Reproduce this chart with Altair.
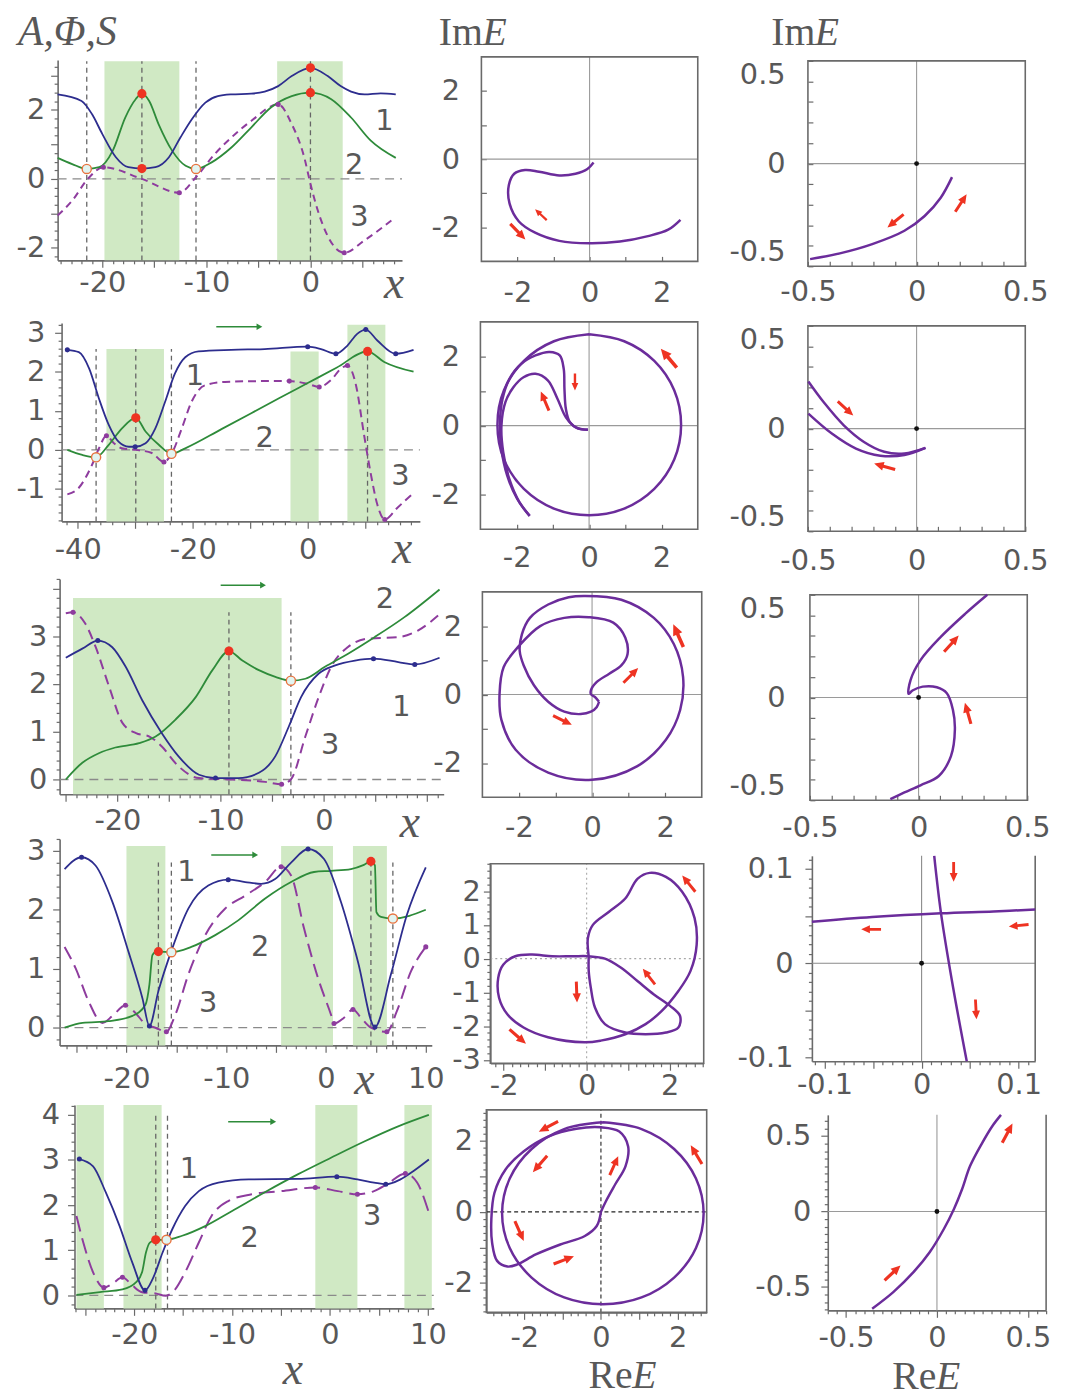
import json
import altair as alt
import pandas as pd

FONT = "DejaVu Sans"
SERIF = "Liberation Serif"
LABEL_GRAY = "#585858"
AXIS_GRAY = "#6a6a6a"
BLUE = "#2d2d8e"
GREEN = "#2e8b3a"
PURPLE = "#8e3c9e"
LOOP = "#6b2c9b"
RED = "#ee3322"
SHADE = "#d0e9c4"
OPEN_FILL = "#e2f4f0"
OPEN_STROKE = "#e8733f"
NB = "\u00a0"

# ---------------- left column: A (1), Phi (2), S (3) versus x ----------------
L1_BLUE = [(-24.3,2.45),(-22.0,2.26),(-21.0,1.88),(-20.0,1.3),(-18.7,0.63),(-17.5,0.34),(-16.2,0.3),(-14.9,0.34),(-13.6,0.63),(-12.5,1.2),(-11.4,1.73),(-10.1,2.21),(-8.9,2.4),(-7.6,2.45),(-5.7,2.47),(-4.4,2.53),(-3.1,2.69),(-1.8,2.98),(0.0,3.22),(1.66,2.98),(2.9,2.69),(3.9,2.53),(5.2,2.45),(6.75,2.48),(8.2,2.45)]
L1_GREEN = [(-24.3,0.61),(-22.9,0.43),(-21.5,0.29),(-20.3,0.34),(-19.0,0.82),(-17.8,1.78),(-16.8,2.31),(-16.2,2.47),(-15.5,2.26),(-14.6,1.59),(-13.3,0.82),(-12.0,0.38),(-11.0,0.29),(-9.5,0.48),(-7.6,0.91),(-5.7,1.49),(-3.8,2.07),(-1.8,2.40),(0.0,2.5),(2.0,2.31),(3.9,1.78),(5.8,1.11),(8.2,0.61)]
L1_PURPLE = [(-24.3,-1.06),(-22.9,-0.63),(-21.4,0.0),(-19.9,0.34),(-16.2,0.0),(-12.6,-0.40),(-11.0,0.05),(-9.2,0.72),(-7.6,1.2),(-5.7,1.68),(-3.1,2.16),(-1.8,1.59),(-0.6,0.63),(0.0,-0.14),(0.7,-0.91),(1.7,-1.68),(3.25,-2.14),(5.2,-1.78),(8.0,-1.15)]
L1_RED = [(-16.2,2.47),(-16.2,0.3),(0.0,3.22),(0.0,2.5)]
L1_OPEN = [(-21.5,0.29),(-11.0,0.29)]
L1_BDOTS = []
L1_PDOTS = [(-19.9,0.34),(-12.6,-0.40),(-3.1,2.16),(3.25,-2.14)]
L1_REGIONS = [(-19.8,-12.6,3.41),(-3.2,3.1,3.41)]
L1_VLINES = [(-21.5,3.41),(-16.2,3.41),(-11.0,3.41),(0.0,3.41)]
L1_TAGS = [("1",7.1,1.68),("2",4.2,0.4),("3",4.7,-1.1)]
L1_XLABELS = [-20,-10,0]
L1_YLABELS = [-2,0,2]

L2_BLUE = [(-41.8,2.56),(-39.8,2.5),(-38.0,2.08),(-36.3,1.31),(-34.6,0.64),(-32.9,0.21),(-31.1,0.08),(-30.0,0.08),(-28.2,0.17),(-26.5,0.55),(-24.8,1.23),(-23.1,1.95),(-21.3,2.37),(-19.0,2.52),(-13.3,2.56),(-7.5,2.58),(0.0,2.64),(2.3,2.58),(4.9,2.46),(6.9,2.67),(8.6,2.97),(10.1,3.08),(12.1,2.8),(15.3,2.46),(18.4,2.56)]
L2_GREEN = [(-41.8,0.0),(-39.2,-0.13),(-36.8,-0.19),(-34.6,0.13),(-32.3,0.55),(-29.9,0.82),(-28.2,0.47),(-25.9,0.13),(-23.7,-0.1),(-21.3,0.04),(-15.0,0.53),(-5.0,1.32),(0.0,1.71),(5.0,2.1),(10.4,2.52),(13.3,2.25),(18.4,2.0)]
L2_PURPLE = [(-41.8,-1.14),(-39.8,-0.97),(-37.5,-0.38),(-36.3,0.04),(-35.0,0.36),(-33.7,0.17),(-32.3,0.04),(-29.9,0.0),(-27.1,-0.08),(-25.0,-0.31),(-23.6,-0.08),(-21.9,0.55),(-20.2,1.23),(-17.9,1.65),(-14.4,1.74),(-7.5,1.76),(-3.2,1.76),(0.0,1.69),(2.0,1.61),(4.0,1.78),(5.8,2.08),(6.9,2.16),(8.4,1.65),(9.8,0.38),(11.0,-0.64),(12.1,-1.4),(13.4,-1.78),(15.6,-1.48),(18.4,-1.1)]
L2_RED = [(-29.9,0.82),(10.4,2.52)]
L2_OPEN = [(-36.8,-0.19),(-23.7,-0.1)]
L2_BDOTS = [(-41.8,2.56),(-30.0,0.08),(0.0,2.64),(4.9,2.46),(10.1,3.08),(15.3,2.46)]
L2_PDOTS = [(-35.0,0.36),(-25.0,-0.31),(-3.2,1.76),(2.0,1.61),(6.9,2.16),(13.4,-1.78)]
L2_REGIONS = [(-35.0,-25.0,2.58),(-3.0,1.9,2.52),(6.9,13.5,3.2)]
L2_VLINES = [(-36.8,2.58),(-29.9,2.58),(-23.7,2.58),(10.4,2.5)]
L2_TAGS = [("1",-19.6,1.9),("2",-7.5,0.3),("3",16.1,-0.68)]
L2_ARROW = (-15.9,-8.4,3.15)
L2_XLABELS = [-40,-20,0]
L2_YLABELS = [-1,0,1,2,3]

L3_BLUE = [(-25.0,2.55),(-23.4,2.74),(-21.9,2.91),(-20.5,2.77),(-19.2,2.36),(-17.6,1.66),(-15.7,0.97),(-14.1,0.49),(-12.1,0.1),(-10.5,0.03),(-8.3,0.03),(-6.3,0.14),(-4.7,0.49),(-3.4,1.11),(-2.2,1.73),(-0.5,2.22),(1.1,2.39),(3.0,2.49),(4.8,2.53),(7.2,2.46),(8.8,2.41),(11.2,2.55)]
L3_GREEN = [(-25.0,0.0),(-23.4,0.35),(-21.8,0.55),(-20.2,0.67),(-17.9,0.76),(-16.3,0.9),(-14.4,1.25),(-12.4,1.73),(-10.8,2.29),(-9.2,2.69),(-7.9,2.49),(-6.3,2.29),(-4.7,2.15),(-3.2,2.07),(-1.8,2.11),(0.1,2.36),(2.3,2.63),(4.9,2.98),(7.8,3.4),(11.2,3.98)]
L3_PURPLE = [(-25.0,3.48),(-24.3,3.5),(-23.1,3.26),(-22.1,2.77),(-20.8,1.94),(-19.5,1.18),(-18.2,0.97),(-16.9,0.9),(-15.7,0.69),(-14.1,0.28),(-12.1,0.03),(-8.9,0.0),(-5.7,-0.05),(-4.1,-0.1),(-3.2,0.0),(-1.8,0.9),(-0.5,1.73),(0.7,2.36),(2.3,2.77),(4.3,2.95),(7.2,2.98),(9.1,3.12),(11.2,3.46)]
L3_RED = [(-9.2,2.69)]
L3_OPEN = [(-3.2,2.07)]
L3_BDOTS = [(-21.9,2.91),(-10.5,0.03),(4.8,2.53),(8.8,2.41)]
L3_PDOTS = [(-24.3,3.5),(-4.1,-0.1)]
L3_REGIONS = [(-24.3,-4.1,3.8)]
L3_VLINES = [(-9.2,3.5),(-3.2,3.5)]
L3_TAGS = [("2",5.9,3.78),("1",7.5,1.52),("3",0.6,0.73)]
L3_ARROW = (-10.0,-5.9,4.07)
L3_XLABELS = [-20,-10,0]
L3_YLABELS = [0,1,2,3]

L4_BLUE = [(-26.2,2.69),(-24.5,2.89),(-23.1,2.75),(-21.4,2.13),(-19.8,1.29),(-18.4,0.5),(-17.7,0.03),(-16.8,0.62),(-15.4,1.35),(-13.8,2.02),(-11.8,2.41),(-9.8,2.51),(-8.1,2.47),(-6.5,2.44),(-5.1,2.52),(-3.5,2.8),(-1.8,3.03),(-0.2,2.86),(1.5,2.13),(3.2,1.12),(4.9,0.01),(6.5,0.9),(8.1,1.91),(10.0,2.72)]
L4_GREEN = [(-26.2,0.0),(-24.4,0.08),(-21.8,0.11),(-19.4,0.2),(-18.1,0.39),(-17.7,0.73),(-17.4,1.23),(-17.1,1.28),(-16.8,1.29),(-15.5,1.28),(-13.5,1.37),(-11.1,1.57),(-8.8,1.82),(-6.1,2.19),(-3.5,2.47),(-1.2,2.64),(0.5,2.66),(2.5,2.69),(3.8,2.76),(4.5,2.82),(4.9,2.75),(5.05,1.96),(5.5,1.88),(6.7,1.85),(10.0,2.0)]
L4_PURPLE = [(-26.2,1.37),(-25.1,1.01),(-23.8,0.45),(-22.4,0.08),(-21.4,0.2),(-20.1,0.38),(-19.1,0.25),(-18.1,0.06),(-17.1,0.0),(-16.0,-0.07),(-15.1,0.22),(-13.8,0.9),(-12.1,1.57),(-10.1,2.02),(-8.1,2.24),(-6.1,2.47),(-4.5,2.73),(-3.5,2.58),(-2.2,1.68),(-0.8,0.84),(0.5,0.22),(0.8,0.07),(1.8,0.17),(2.7,0.31),(3.5,0.17),(4.5,0.0),(6.1,-0.07),(7.1,0.28),(8.5,0.95),(10.0,1.37)]
L4_RED = [(-16.8,1.29),(4.5,2.82)]
L4_OPEN = [(-15.5,1.28),(6.7,1.85)]
L4_BDOTS = [(-24.5,2.89),(-17.7,0.03),(-9.8,2.51),(-1.8,3.03),(4.9,0.01)]
L4_PDOTS = [(-20.1,0.38),(-16.0,-0.07),(-4.5,2.73),(0.8,0.07),(2.7,0.31),(6.1,-0.07),(10.0,1.37)]
L4_REGIONS = [(-20.0,-16.1,3.08),(-4.5,0.7,3.08),(2.7,6.1,3.08)]
L4_VLINES = [(-16.8,2.8),(-15.5,2.8),(4.5,2.8),(6.7,2.8)]
L4_TAGS = [("1",-14.0,2.64),("2",-6.6,1.37),("3",-11.8,0.42)]
L4_ARROW = (-11.5,-7.1,2.93)
L4_XLABELS = [-20,-10,0,10]
L4_YLABELS = [0,1,2,3]

L5_BLUE = [(-25.6,3.02),(-24.2,2.86),(-22.9,2.28),(-21.5,1.54),(-20.2,0.73),(-18.9,0.11),(-18.1,0.37),(-17.1,0.95),(-16.1,1.47),(-14.8,1.98),(-13.4,2.31),(-11.4,2.5),(-8.3,2.57),(-3.3,2.58),(0.7,2.63),(2.8,2.57),(4.5,2.5),(5.7,2.46),(7.2,2.57),(8.5,2.75),(10.1,3.01)]
L5_GREEN = [(-25.9,0.01),(-23.5,0.07),(-21.2,0.13),(-19.8,0.29),(-19.2,0.51),(-18.8,0.95),(-18.4,1.17),(-17.8,1.23),(-16.7,1.23),(-15.1,1.32),(-12.7,1.54),(-10.0,1.87),(-6.7,2.28),(-3.3,2.68),(0.1,3.05),(3.5,3.41),(6.9,3.74),(10.1,4.0)]
L5_PURPLE = [(-25.9,1.76),(-25.2,1.17),(-24.2,0.51),(-23.1,0.17),(-22.2,0.26),(-21.2,0.4),(-20.2,0.22),(-19.2,0.07),(-17.8,0.04),(-16.8,-0.01),(-15.9,0.11),(-14.8,0.51),(-13.4,1.17),(-12.1,1.76),(-10.4,2.09),(-8.0,2.24),(-5.0,2.31),(-1.5,2.39),(0.8,2.31),(2.8,2.24),(4.5,2.31),(5.8,2.46),(7.7,2.7),(8.9,2.5),(10.2,1.76)]
L5_RED = [(-17.8,1.23)]
L5_OPEN = [(-16.7,1.23)]
L5_BDOTS = [(-25.6,3.02),(-18.9,0.11),(0.7,2.63),(5.7,2.46)]
L5_PDOTS = [(-23.1,0.17),(-21.2,0.4),(-1.5,2.39),(2.8,2.24),(7.7,2.7)]
L5_REGIONS = [(-25.9,-23.1,4.22),(-21.1,-17.2,4.22),(-1.5,2.8,4.22),(7.6,10.4,4.22)]
L5_VLINES = [(-17.8,4.04),(-16.6,4.04)]
L5_TAGS = [("1",-14.4,2.79),("2",-8.2,1.28),("3",4.3,1.76)]
L5_ARROW = (-10.4,-5.8,3.85)
L5_XLABELS = [-20,-10,0,10]
L5_YLABELS = [0,1,2,3,4]

# ---------------- middle / right columns: ImE versus ReE ----------------
M1_CURVE = [(0.11,-0.1),(-0.06,-0.29),(-0.39,-0.43),(-0.84,-0.48),(-1.4,-0.37),(-1.79,-0.32),(-2.09,-0.43),(-2.24,-0.77),(-2.22,-1.3),(-1.96,-1.83),(-1.51,-2.16),(-0.84,-2.4),(0.0,-2.47),(0.84,-2.42),(1.62,-2.26),(2.18,-2.07),(2.52,-1.78)]
M1_ARROWS = [(-1.35,-1.63,313,16),(-1.99,-2.13,136,22)]

M2_CIRCLE = [(0.0,2.64),(0.97,2.44),(1.8,1.87),(2.35,1.02),(2.54,0.02),(2.35,-0.98),(1.8,-1.83),(0.97,-2.4),(0.0,-2.59),(-0.97,-2.4),(-1.8,-1.83),(-2.35,-0.98),(-2.53,0.02),(-2.35,1.02),(-1.8,1.87),(-0.97,2.44),(0.0,2.64)]
M2_SPIKE1 = [(-0.03,-0.12),(-0.31,-0.08),(-0.53,0.1),(-0.64,0.48),(-0.68,1.06),(-0.7,1.64),(-0.81,2.03),(-1.09,2.13),(-1.48,2.03),(-1.87,1.79),(-2.2,1.35),(-2.39,0.77),(-2.46,0.1),(-2.42,-0.68),(-2.26,-1.45),(-1.98,-2.13),(-1.64,-2.61)]
M2_SPIKE2 = [(-0.03,-0.12),(-0.37,-0.05),(-0.64,0.24),(-0.87,0.77),(-1.14,1.31),(-1.48,1.5),(-1.81,1.4),(-2.09,1.11),(-2.31,0.68),(-2.42,0.0),(-2.37,-0.77),(-2.2,-1.55),(-1.92,-2.22),(-1.64,-2.61)]
M2_ARROWS = [(2.2,1.95,320,25),(-0.39,1.26,180,17),(-1.22,0.71,337,21)]

M3_PATH = [(0.19,-0.21),(0.13,-0.36),(-0.03,-0.5),(-0.31,-0.57),(-0.76,-0.5),(-1.2,-0.21),(-1.59,0.27),(-1.87,0.85),(-1.98,1.28),(-1.92,1.76),(-1.7,2.24),(-1.2,2.63),(-0.64,2.84),(-0.2,2.88),(0.8,2.77),(1.69,2.24),(2.24,1.47),(2.49,0.51),(2.41,-0.45),(2.02,-1.32),(1.24,-2.09),(0.0,-2.49),(-1.2,-2.28),(-2.09,-1.61),(-2.48,-0.74),(-2.53,0.03),(-2.42,0.8),(-2.0,1.42),(-1.42,2.0),(-0.76,2.24),(-0.09,2.26),(0.58,2.1),(0.91,1.66),(0.97,1.18),(0.8,0.85),(0.47,0.61),(0.13,0.37),(-0.03,0.13),(-0.03,0.01),(0.08,-0.07),(0.19,-0.21)]
M3_ARROWS = [(2.36,1.72,336,25),(1.06,0.56,45,21),(-0.81,-0.75,116,21)]

M4_PATH = [(0.05,0.07),(0.03,0.61),(0.15,1.0),(0.54,1.39),(0.93,1.78),(1.23,2.37),(1.52,2.54),(1.91,2.42),(2.3,1.98),(2.6,1.2),(2.65,0.41),(2.5,-0.37),(2.21,-0.96),(1.81,-1.55),(1.42,-1.94),(0.93,-2.24),(0.34,-2.43),(-0.05,-2.48),(-0.93,-2.33),(-1.52,-2.04),(-1.91,-1.65),(-2.11,-1.16),(-2.13,-0.57),(-2.01,-0.18),(-1.72,0.07),(-1.32,0.12),(-0.83,0.07),(-0.34,0.07),(0.05,0.07),(0.44,0.0),(0.83,-0.27),(1.23,-0.67),(1.62,-1.06),(2.01,-1.4),(2.25,-1.7),(2.21,-2.04),(1.91,-2.19),(1.42,-2.24),(0.93,-2.19),(0.44,-1.94),(0.2,-1.45),(0.1,-0.86),(0.05,-0.37),(0.05,0.07)]
M4_ARROWS = [(2.46,2.22,321,21),(1.5,-0.53,322,20),(-0.24,-0.99,178,21),(-1.66,-2.31,131,22)]

M5_CIRCLE = [(0.05,2.52),(1.06,2.33),(1.91,1.77),(2.48,0.94),(2.68,-0.04),(2.48,-1.02),(1.91,-1.85),(1.06,-2.41),(0.05,-2.6),(-0.96,-2.41),(-1.81,-1.85),(-2.38,-1.02),(-2.58,-0.04),(-2.38,0.94),(-1.81,1.77),(-0.96,2.33),(0.05,2.52)]
M5_BEAN = [(0.0,0.0),(-0.11,-0.4),(-0.42,-0.68),(-1.06,-0.92),(-1.7,-1.2),(-2.18,-1.48),(-2.44,-1.54),(-2.71,-1.38),(-2.84,-0.87),(-2.86,-0.21),(-2.78,0.53),(-2.49,1.19),(-2.02,1.7),(-1.38,2.12),(-0.64,2.34),(0.0,2.38),(0.48,2.26),(0.71,1.84),(0.64,1.28),(0.37,0.77),(0.13,0.3),(0.0,0.0)]
M5_ARROWS = [(-1.37,2.4,242,22),(-1.59,1.35,221,22),(0.34,1.3,24,21),(2.49,1.61,329,22),(-2.13,-0.54,156,22),(-0.97,-1.36,69,22)]

R1_CURVE = [(0.163,-0.066),(0.111,-0.166),(0.037,-0.255),(-0.056,-0.327),(-0.204,-0.392),(-0.353,-0.437),(-0.49,-0.465)]
R1_ARROWS = [(-0.097,-0.279,231,21),(0.204,-0.192,33,21)]

R2_A = [(-0.498,0.229),(-0.428,0.129),(-0.335,0.016),(-0.242,-0.065),(-0.149,-0.113),(-0.056,-0.121),(0.041,-0.094)]
R2_B = [(0.041,-0.094),(-0.056,-0.129),(-0.167,-0.132),(-0.279,-0.097),(-0.39,-0.024),(-0.498,0.073)]
R2_ARROWS = [(-0.327,0.098,132,21),(-0.147,-0.185,286,22)]

R3_CURVE = [(-0.13,-0.494),(-0.065,-0.462),(0.009,-0.427),(0.093,-0.382),(0.149,-0.285),(0.167,-0.156),(0.158,-0.06),(0.13,0.021),(0.084,0.05),(0.019,0.053),(-0.028,0.034),(-0.046,0.018),(-0.037,0.085),(0.009,0.182),(0.102,0.295),(0.214,0.407),(0.316,0.5)]
R3_ARROWS = [(0.151,0.262,42,22),(0.227,-0.077,344,22)]

R4_A = [(-0.113,0.044),(-0.051,0.049),(0.02,0.053),(0.074,0.055),(0.117,0.057)]
R4_B = [(0.013,0.114),(0.02,0.053),(0.0325,-0.026),(0.0465,-0.104)]
R4_ARROWS = [(0.033,0.097,180,20),(0.056,-0.049,177,20),(-0.052,0.036,270,20),(0.1,0.04,264,20)]

R5_CURVE = [(-0.356,-0.644),(-0.24,-0.534),(-0.129,-0.402),(-0.04,-0.27),(0.038,-0.116),(0.093,0.015),(0.138,0.147),(0.182,0.301),(0.249,0.455),(0.304,0.565),(0.352,0.64)]
R5_ARROWS = [(-0.244,-0.407,47,22),(0.387,0.519,28,22)]

# ---------------- helpers ----------------
W, H = 1061, 1389   # drawing area; page position = view position + 8


def frange(a, b, step):
    n = int(round((b - a) / step))
    return [round(a + k * step, 6) for k in range(n + 1)]


def make_axis(orient, ticks, majors, labels, big, small, pad, offset, inward=False, flush=False, negpad=0):
    lab = json.dumps(labels)
    maj = json.dumps(majors)
    tail = NB * negpad
    kw = dict(orient=orient, values=ticks, offset=offset,
              labelExpr="indexof(%s, datum.value) >= 0 ? (datum.value < 0 ? '' + datum.value + '%s' : '' + datum.value) : ''" % (lab, tail),
              labelFont=FONT, labelFontSize=29, labelColor=LABEL_GRAY, labelPadding=pad,
              labelOverlap=False, labelFlush=flush, grid=False, title="",
              tickColor=AXIS_GRAY, tickWidth=1.2)
    if inward:
        kw.update(tickSize=big, domain=False)
    else:
        kw.update(tickSize={"condition": {"test": "indexof(%s, datum.value) >= 0" % maj, "value": big},
                            "value": small},
                  domain=True, domainColor=AXIS_GRAY, domainWidth=1.6)
    return alt.Axis(**kw)


def pts_df(points, seg=0):
    return pd.DataFrame({"x": [p[0] for p in points], "y": [p[1] for p in points],
                         "i": list(range(len(points))), "seg": seg})


def text_layer(t, px, py, style, size=40, align="left"):
    return alt.Chart(pd.DataFrame({"t": [t]})).mark_text(
        font=SERIF, fontSize=size, fontStyle=style, color=LABEL_GRAY,
        align=align, baseline="alphabetic").encode(
        x=alt.value(px), y=alt.value(py), text="t:N")


def frame(box):
    x0, x1, y0, y1 = [v - 8 for v in box]
    return x0, x1, y0, y1


def left_panel(d, box):
    x0, x1, y0, y1 = frame(box)
    xs = alt.Scale(domain=d["xdom"], range=[x0, x1], nice=False, zero=False)
    ys = alt.Scale(domain=d["ydom"], range=[y1, y0], nice=False, zero=False)
    xa = make_axis("bottom", d["xt"], d["xm"], d["xl"], 7, 3.5, d["xpad"], y1 - H, negpad=2)
    ya = make_axis("left", d["yt"], d["ym"], d["yl"], 7, 3.5, d["ypad"], -x0)
    X = lambda f: alt.X(f, type="quantitative", scale=xs, axis=xa)
    Y = lambda f: alt.Y(f, type="quantitative", scale=ys, axis=ya)
    lo = d["ydom"][0]
    layers = []
    reg = pd.DataFrame([{"a": a, "b": b, "lo": lo, "hi": t} for a, b, t in d["regions"]])
    layers.append(alt.Chart(reg).mark_rect(color=SHADE, opacity=1).encode(
        x=X("a"), x2=alt.X2("b"), y=Y("lo"), y2=alt.Y2("hi")))
    zero = pd.DataFrame({"v": [0.0], "a": [d["xdom"][0]], "b": [d["xdom"][1]]})
    layers.append(alt.Chart(zero).mark_rule(color="#8a8a8a", strokeDash=[9, 6], strokeWidth=1.3).encode(
        x=X("a"), x2=alt.X2("b"), y=Y("v")))
    vl = pd.DataFrame([{"x": a, "lo": lo, "hi": t} for a, t in d["vlines"]])
    layers.append(alt.Chart(vl).mark_rule(color="#666666", strokeDash=[5, 4], strokeWidth=1.3).encode(
        x=X("x"), y=Y("lo"), y2=alt.Y2("hi")))
    layers.append(alt.Chart(pts_df(d["purple"])).mark_line(
        color=PURPLE, strokeWidth=2, strokeDash=d["dash"], interpolate="monotone").encode(
        x=X("x"), y=Y("y"), order="i:Q"))
    layers.append(alt.Chart(pts_df(d["green"])).mark_line(
        color=GREEN, strokeWidth=1.8, interpolate="monotone").encode(
        x=X("x"), y=Y("y"), order="i:Q"))
    layers.append(alt.Chart(pts_df(d["blue"])).mark_line(
        color=BLUE, strokeWidth=1.8, interpolate="monotone").encode(
        x=X("x"), y=Y("y"), order="i:Q"))
    if d["bdots"]:
        layers.append(alt.Chart(pts_df(d["bdots"])).mark_point(filled=True, color=BLUE, size=26, opacity=1).encode(
            x=X("x"), y=Y("y")))
    if d["pdots"]:
        layers.append(alt.Chart(pts_df(d["pdots"])).mark_point(filled=True, color=PURPLE, size=26, opacity=1).encode(
            x=X("x"), y=Y("y")))
    layers.append(alt.Chart(pts_df(d["red"])).mark_point(filled=True, color=RED, size=85, opacity=1).encode(
        x=X("x"), y=Y("y")))
    layers.append(alt.Chart(pts_df(d["open"])).mark_point(
        filled=True, fill=OPEN_FILL, stroke=OPEN_STROKE, strokeWidth=1.4, size=85, opacity=1).encode(
        x=X("x"), y=Y("y")))
    tags = pd.DataFrame([{"t": t, "x": a, "y": b} for t, a, b in d["tags"]])
    layers.append(alt.Chart(tags).mark_text(font=FONT, fontSize=29, color=LABEL_GRAY).encode(
        x=X("x"), y=Y("y"), text="t:N"))
    if d.get("arrow"):
        a, b, yv = d["arrow"]
        adf = pd.DataFrame([{"a": a, "b": b, "y": yv}])
        layers.append(alt.Chart(adf).mark_rule(color=GREEN, strokeWidth=1.5).encode(
            x=X("a"), x2=alt.X2("b"), y=Y("y")))
        layers.append(alt.Chart(adf).mark_point(shape="triangle-right", filled=True, color=GREEN,
                                                size=45, opacity=1).encode(x=X("b"), y=Y("y")))
    px, py = d["xtitle"]
    layers.append(text_layer("x", px - 8, py - 8, "italic", size=46, align="center"))
    for t, tx, ty, st in d.get("texts", []):
        layers.append(text_layer(t, tx - 8, ty - 8, st, size=42))
    return alt.layer(*layers)


def phase_panel(d, box):
    x0, x1, y0, y1 = frame(box)
    xs = alt.Scale(domain=d["xdom"], range=[x0, x1], nice=False, zero=False)
    ys = alt.Scale(domain=d["ydom"], range=[y1, y0], nice=False, zero=False)
    neg = d.get("negpad", 0)
    if d["inward"]:
        xa = make_axis("bottom", d["xt"], d["xt"], d["xl"], 5, 5, d["xpad"], y1 - H - 5, inward=True, negpad=neg)
        ya = make_axis("left", d["yt"], d["yt"], d["yl"], 5, 5, d["ypad"], -x0 - 5, inward=True,
                       flush=d.get("yflush", False))
    else:
        xa = make_axis("bottom", d["xt"], d["xm"], d["xl"], 7, 3.5, d["xpad"], y1 - H, negpad=neg)
        ya = make_axis("left", d["yt"], d["ym"], d["yl"], 7, 3.5, d["ypad"], -x0)
    X = lambda f: alt.X(f, type="quantitative", scale=xs, axis=xa)
    Y = lambda f: alt.Y(f, type="quantitative", scale=ys, axis=ya)
    (xa0, xa1), (ya0, ya1) = d["xdom"], d["ydom"]
    layers = []
    gkw = dict(color=d["gridcolor"], strokeWidth=1.1)
    if d.get("griddash"):
        gkw["strokeDash"] = d["griddash"]
    g = pd.DataFrame({"v": [0.0], "xa": [xa0], "xb": [xa1], "ya": [ya0], "yb": [ya1]})
    layers.append(alt.Chart(g).mark_rule(**gkw).encode(x=X("v"), y=Y("ya"), y2=alt.Y2("yb")))
    layers.append(alt.Chart(g).mark_rule(**gkw).encode(y=Y("v"), x=X("xa"), x2=alt.X2("xb")))
    if d["box"]:
        layers.append(alt.Chart(g).mark_rect(fill="transparent", stroke=AXIS_GRAY, strokeWidth=1.6).encode(
            x=X("xa"), x2=alt.X2("xb"), y=Y("ya"), y2=alt.Y2("yb")))
    if d.get("rightline"):
        layers.append(alt.Chart(g).mark_rule(color=AXIS_GRAY, strokeWidth=1.6).encode(
            x=X("xb"), y=Y("ya"), y2=alt.Y2("yb")))
    curves = pd.concat([pts_df(c, k) for k, c in enumerate(d["curves"])], ignore_index=True)
    layers.append(alt.Chart(curves).mark_line(color=LOOP, strokeWidth=2.5, interpolate="catmull-rom").encode(
        x=X("x"), y=Y("y"), detail="seg:N", order="i:Q"))
    arr = pd.DataFrame([{"x": a, "y": b, "ang": gg, "sz": L * L} for a, b, gg, L in d["arrows"]])
    layers.append(alt.Chart(arr).mark_point(shape="arrow", filled=True, color=RED, opacity=1, strokeWidth=0).encode(
        x=X("x"), y=Y("y"), angle=alt.Angle("ang:Q", scale=None), size=alt.Size("sz:Q", scale=None)))
    if d.get("origin"):
        layers.append(alt.Chart(g).mark_point(filled=True, color="#111111", size=24, opacity=1).encode(
            x=X("v"), y=Y("v")))
    for t, tx, ty, st in d.get("texts", []):
        layers.append(text_layer(t, tx - 8, ty - 8, st))
    return alt.layer(*layers)


# ---------------- panel specs ----------------
LEFT = [
    dict(xdom=[-24.3, 8.8], ydom=[-2.36, 3.45], xt=frange(-24, 8, 1), xm=[-20, -15, -10, -5, 0, 5], xl=L1_XLABELS,
         yt=frange(-2.25, 3.25, 0.25), ym=[-2, -1, 0, 1, 2, 3], yl=L1_YLABELS, xpad=1, ypad=6,
         blue=L1_BLUE, green=L1_GREEN, purple=L1_PURPLE, red=L1_RED, open=L1_OPEN, bdots=L1_BDOTS, pdots=L1_PDOTS,
         regions=L1_REGIONS, vlines=L1_VLINES, tags=L1_TAGS, dash=[7, 5], xtitle=(397, 295),
         texts=[("A,\u03a6,S", 18, 40, "italic")]),
    dict(xdom=[-42.8, 19.5], ydom=[-1.83, 3.25], xt=frange(-42, 18, 2), xm=[-40, -30, -20, -10, 0, 10], xl=L2_XLABELS,
         yt=frange(-1.8, 3.2, 0.2), ym=[-1, 0, 1, 2, 3], yl=L2_YLABELS, xpad=7, ypad=10,
         blue=L2_BLUE, green=L2_GREEN, purple=L2_PURPLE, red=L2_RED, open=L2_OPEN, bdots=L2_BDOTS, pdots=L2_PDOTS,
         regions=L2_REGIONS, vlines=L2_VLINES, tags=L2_TAGS, dash=[8, 5], arrow=L2_ARROW, xtitle=(405, 562)),
    dict(xdom=[-25.6, 11.6], ydom=[-0.31, 4.2], xt=frange(-25, 11, 1), xm=[-25, -20, -15, -10, -5, 0, 5, 10], xl=L3_XLABELS,
         yt=frange(-0.2, 4.2, 0.2), ym=[0, 1, 2, 3, 4], yl=L3_YLABELS, xpad=5, ypad=6,
         blue=L3_BLUE, green=L3_GREEN, purple=L3_PURPLE, red=L3_RED, open=L3_OPEN, bdots=L3_BDOTS, pdots=L3_PDOTS,
         regions=L3_REGIONS, vlines=L3_VLINES, tags=L3_TAGS, dash=[10, 6], arrow=L3_ARROW, xtitle=(413, 838)),
    dict(xdom=[-26.7, 10.6], ydom=[-0.3, 3.2], xt=frange(-26, 10, 1), xm=[-25, -20, -15, -10, -5, 0, 5, 10], xl=L4_XLABELS,
         yt=frange(-0.2, 3.2, 0.2), ym=[0, 1, 2, 3], yl=L4_YLABELS, xpad=12, ypad=8,
         blue=L4_BLUE, green=L4_GREEN, purple=L4_PURPLE, red=L4_RED, open=L4_OPEN, bdots=L4_BDOTS, pdots=L4_PDOTS,
         regions=L4_REGIONS, vlines=L4_VLINES, tags=L4_TAGS, dash=[14, 7], arrow=L4_ARROW, xtitle=(367, 1097)),
    dict(xdom=[-26.1, 10.6], ydom=[-0.29, 4.22], xt=frange(-26, 10, 1), xm=[-25, -20, -15, -10, -5, 0, 5, 10], xl=L5_XLABELS,
         yt=frange(-0.2, 4.2, 0.2), ym=[0, 1, 2, 3, 4], yl=L5_YLABELS, xpad=5, ypad=8,
         blue=L5_BLUE, green=L5_GREEN, purple=L5_PURPLE, red=L5_RED, open=L5_OPEN, bdots=L5_BDOTS, pdots=L5_PDOTS,
         regions=L5_REGIONS, vlines=L5_VLINES, tags=L5_TAGS, dash=[16, 7], arrow=L5_ARROW, xtitle=(295, 1389)),
]

M_IN = dict(xdom=[-3, 3], ydom=[-3, 3], inward=True, xt=[-2, -1, 0, 1, 2], yt=[-2, -1, 0, 1, 2],
            xl=[-2, 0, 2], yl=[-2, 0, 2], gridcolor="#9a9a9a", box=True, negpad=1)
R_IN = dict(xdom=[-0.5, 0.5], ydom=[-0.5, 0.5], inward=True, xt=frange(-0.5, 0.5, 0.1), yt=frange(-0.5, 0.5, 0.1),
            xl=[-0.5, 0, 0.5], yl=[-0.5, 0, 0.5], gridcolor="#9a9a9a", box=True, yflush=True, origin=True)

MID = [
    dict(M_IN, curves=[M1_CURVE], arrows=M1_ARROWS, xpad=17, ypad=22,
         texts=[("Im", 442, 40, "normal"), ("E", 486, 40, "italic")]),
    dict(M_IN, curves=[M2_CIRCLE, M2_SPIKE1, M2_SPIKE2], arrows=M2_ARROWS, xpad=14, ypad=21),
    dict(M_IN, curves=[M3_PATH], arrows=M3_ARROWS, xpad=17, ypad=21),
    dict(xdom=[-2.32, 2.82], ydom=[-3.1, 2.81], inward=False, xt=frange(-2.2, 2.8, 0.2), xm=[-2, -1, 0, 1, 2],
         xl=[-2, 0, 2], yt=frange(-3.0, 2.8, 0.2), ym=[-3, -2, -1, 0, 1, 2], yl=[-3, -2, -1, 0, 1, 2],
         gridcolor="#a8a8a8", griddash=[2, 3], box=True, curves=[M4_PATH], arrows=M4_ARROWS, xpad=1, ypad=3,
         negpad=1),
    dict(xdom=[-2.99, 2.76], ydom=[-2.83, 2.87], inward=False, xt=frange(-2.8, 2.6, 0.2), xm=[-2, -1, 0, 1, 2],
         xl=[-2, 0, 2], yt=frange(-2.8, 2.8, 0.2), ym=[-2, -1, 0, 1, 2], yl=[-2, 0, 2],
         gridcolor="#222222", griddash=[4, 3], box=True, curves=[M5_CIRCLE, M5_BEAN], arrows=M5_ARROWS, xpad=4, ypad=7,
         negpad=1, texts=[("Re", 593, 1393, "normal"), ("E", 637, 1393, "italic")]),
]

RIGHT = [
    dict(R_IN, curves=[R1_CURVE], arrows=R1_ARROWS, xpad=11, ypad=23,
         texts=[("Im", 777, 40, "normal"), ("E", 821, 40, "italic")]),
    dict(R_IN, curves=[R2_A, R2_B], arrows=R2_ARROWS, xpad=15, ypad=23),
    dict(R_IN, curves=[R3_CURVE], arrows=R3_ARROWS, xpad=14, ypad=25),
    dict(xdom=[-0.113, 0.117], ydom=[-0.104, 0.114], inward=False, xt=frange(-0.11, 0.11, 0.01),
         xm=[-0.1, -0.05, 0, 0.05, 0.1], xl=[-0.1, 0, 0.1], yt=frange(-0.1, 0.11, 0.01),
         ym=[-0.1, -0.05, 0, 0.05, 0.1], yl=[-0.1, 0, 0.1], gridcolor="#8a8a8a", box=False, rightline=True,
         origin=True, curves=[R4_A, R4_B], arrows=R4_ARROWS, xpad=2, ypad=12),
    dict(xdom=[-0.6, 0.6], ydom=[-0.655, 0.64], inward=False, xt=frange(-0.6, 0.6, 0.05),
         xm=[-0.5, 0, 0.5], xl=[-0.5, 0, 0.5], yt=frange(-0.65, 0.6, 0.05), ym=[-0.5, 0, 0.5], yl=[-0.5, 0, 0.5],
         gridcolor="#9a9a9a", box=False, rightline=True, origin=True, curves=[R5_CURVE], arrows=R5_ARROWS,
         xpad=6, ypad=10, texts=[("Re", 899, 1394, "normal"), ("E", 943, 1394, "italic")]),
]

# page boxes of the plot areas: (x0, x1, y0, y1) for left, middle, right panel of each row
ROWS = [
    [(58, 405, 55, 257), (485, 703, 52, 258), (814, 1033, 56, 263)],
    [(62, 423, 320, 520), (484, 703, 319, 528), (814, 1033, 323, 530)],
    [(60, 447, 578, 795), (486, 707, 591, 798), (816, 1035, 594, 801)],
    [(60, 435, 840, 1048), (494, 709, 865, 1066), (818, 1043, 857, 1064)],
    [(75, 437, 1108, 1313), (490, 712, 1113, 1317), (834, 1054, 1118, 1315)],
]

panels = []
for r, boxes in enumerate(ROWS):
    panels.append(left_panel(LEFT[r], boxes[0]))
    panels.append(phase_panel(MID[r], boxes[1]))
    panels.append(phase_panel(RIGHT[r], boxes[2]))

chart = alt.layer(*panels).resolve_scale(x="independent", y="independent").resolve_axis(
    x="independent", y="independent").properties(
    width=W, height=H, padding=0, autosize=alt.AutoSizeParams(type="none"), background="white"
).configure_view(strokeWidth=0)

chart.save("out.html", embed_options={"renderer": "svg", "actions": False})
